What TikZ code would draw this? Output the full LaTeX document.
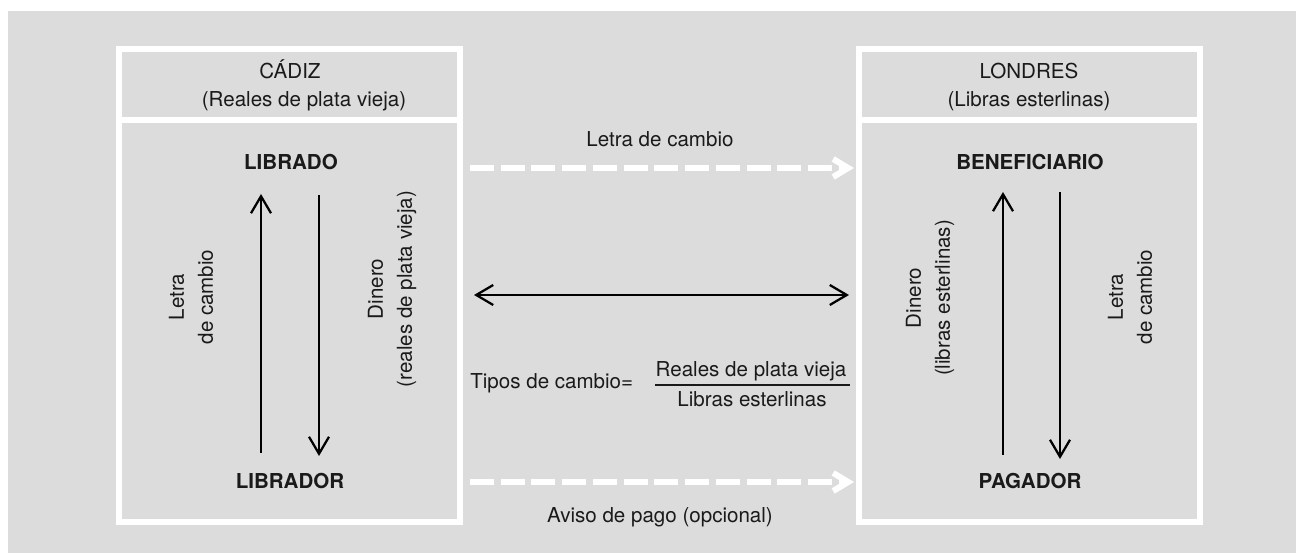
\documentclass[tikz,border=0pt]{standalone}
\usepackage{fontspec}
\setmainfont{TeX Gyre Heros}
\usetikzlibrary{arrows.meta}
\definecolor{fondo}{RGB}{220,220,220}
\definecolor{tinta}{RGB}{26,26,26}

\begin{document}
\begin{tikzpicture}[x=0.02cm, y=-0.02cm,
    every node/.style={font=\fontsize{11.7}{14}\selectfont, text=tinta, inner sep=0pt},
    caja/.style={draw=white, line width=0.12cm},
    ciudad/.style={anchor=base},
    parte/.style={anchor=base, font=\fontsize{11.7}{14}\selectfont\bfseries},
    giro/.style={rotate=90, align=center, font=\fontsize{11.7}{16.5}\selectfont},
    flujo/.style={line width=0.045cm, -{Straight Barb[length=0.34cm, width=0.4cm]}},
    doble/.style={line width=0.045cm,
      {Straight Barb[length=0.34cm, width=0.4cm]}-{Straight Barb[length=0.34cm, width=0.4cm]}},
    aviso/.style={draw=white, line width=0.12cm, dash pattern=on 0.48cm off 0.135cm,
      -{Straight Barb[length=0.3cm, width=0.36cm]}}]

    % fondo gris con margen blanco arriba e izquierda
    \useasboundingbox (0,0) rectangle (1296,553);
    \fill[white] (0,0) rectangle (1296,553);
    \fill[fondo] (8,11) rectangle (1296,553);

    % cajas de las dos plazas
    \draw[caja] (119,49) rectangle (460,522);
    \draw[caja] (119,120.5) -- (460,120.5);
    \draw[caja] (859,49) rectangle (1200,522);
    \draw[caja] (859,120.5) -- (1200,120.5);

    % cabeceras
    \node[ciudad] (cadiz) at (290,79) {CÁDIZ};
    \node[ciudad] (reales) at (304,107) {(Reales de plata vieja)};
    \node[ciudad] (londres) at (1029,79) {LONDRES};
    \node[ciudad] (libras) at (1029,107) {(Libras esterlinas)};

    % las partes
    \node[parte] (librado) at (291,170) {LIBRADO};
    \node[parte] (librador) at (290,489) {LIBRADOR};
    \node[parte] (beneficiario) at (1030,170) {BENEFICIARIO};
    \node[parte] (pagador) at (1030,489) {PAGADOR};

    % textos girados
    \node[giro] (letraC) at (191,297) {Letra\\ de cambio};
    \node[giro] (dineroC) at (392,289) {Dinero\\(reales de plata vieja)};
    \node[giro] (dineroL) at (930,298) {Dinero\\(libras esterlinas)};
    \node[giro] (letraL) at (1130,297) {Letra\\ de cambio};

    % textos del centro
    \node[ciudad] (letra) at (660,147) {Letra de cambio};
    \node[ciudad] (aviso) at (660,523) {Aviso de pago (opcional)};
    \node[anchor=base west] (tipos) at (470,389) {Tipos de cambio=};
    \node[ciudad] (num) at (751,377) {Reales de plata vieja};
    \node[ciudad] (den) at (752,407) {Libras esterlinas};
    \coordinate (rayaA) at (655,385);
    \coordinate (rayaB) at (850,385);
    \draw[tinta, line width=0.022cm] (rayaA) -- (rayaB);

    % extremos de las flechas
    \coordinate (c1) at (261,453);
    \coordinate (c2) at (261,194);
    \coordinate (c3) at (319,195);
    \coordinate (c4) at (319,456);
    \coordinate (l1) at (1003,455);
    \coordinate (l2) at (1003,192);
    \coordinate (l3) at (1060,192);
    \coordinate (l4) at (1060,459);
    \coordinate (m1) at (474,295);
    \coordinate (m2) at (849,295);
    \coordinate (d1) at (470,168);
    \coordinate (d2) at (854,168);
    \coordinate (d3) at (470,482);
    \coordinate (d4) at (854,482);

    % flujos
    \draw[flujo] (c1) -- (c2);
    \draw[flujo] (c3) -- (c4);
    \draw[flujo] (l1) -- (l2);
    \draw[flujo] (l3) -- (l4);
    \draw[doble] (m1) -- (m2);
    \draw[aviso] (d1) -- (d2);
    \draw[aviso] (d3) -- (d4);

\end{tikzpicture}
\end{document}
